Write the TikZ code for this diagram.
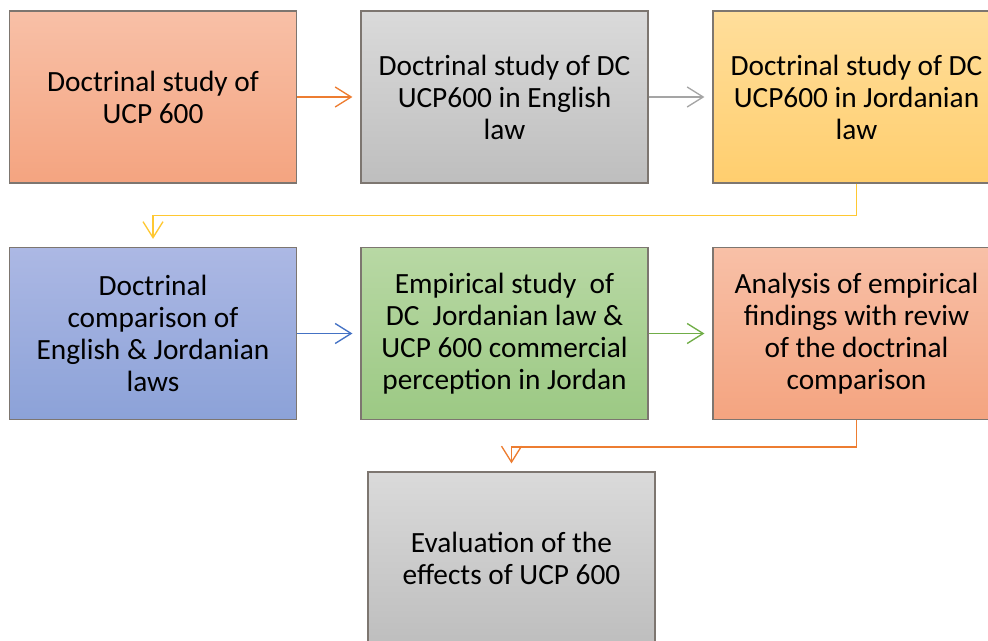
\documentclass[tikz,border=0pt]{standalone}
\usepackage{fontspec}
\setmainfont{Carlito}
\usetikzlibrary{arrows.meta}
\definecolor{bordc}{RGB}{125,118,112}
\definecolor{orT}{RGB}{248,192,167}
\definecolor{orB}{RGB}{244,164,128}
\definecolor{grT}{RGB}{218,218,218}
\definecolor{grB}{RGB}{190,190,190}
\definecolor{yeT}{RGB}{255,222,155}
\definecolor{yeB}{RGB}{255,206,110}
\definecolor{blT}{RGB}{172,184,228}
\definecolor{blB}{RGB}{140,162,216}
\definecolor{gnT}{RGB}{184,216,164}
\definecolor{gnB}{RGB}{156,201,132}
\definecolor{aor}{RGB}{237,125,49}
\definecolor{agr}{RGB}{165,165,165}
\definecolor{aye}{RGB}{255,200,50}
\definecolor{abl}{RGB}{68,114,196}
\definecolor{agn}{RGB}{112,173,71}
\tikzset{
  flowbox/.style={draw=bordc, line width=0.9pt, rectangle, minimum width=215.25pt,
    minimum height=129pt, align=center, inner sep=2pt,
    font=\fontsize{22}{24}\selectfont, text=black},
  conn/.style={line width=1pt, -{Straight Barb[length=12pt,width=15pt,line width=1pt]}, shorten >=6pt},
}
\begin{document}
\begin{tikzpicture}[x=0.75pt,y=-0.75pt]
\useasboundingbox (0,0) rectangle (988,641);
\node[flowbox, top color=orT, bottom color=orB] (b1) at (153,97) {Doctrinal study of\\UCP 600};
\node[flowbox, top color=grT, bottom color=grB] (b2) at (504.5,97) {Doctrinal study of DC\\UCP600 in English\\law};
\node[flowbox, top color=yeT, bottom color=yeB] (b3) at (856.5,97) {Doctrinal study of DC\\UCP600 in Jordanian\\law};
\node[flowbox, top color=blT, bottom color=blB] (b4) at (153,333.5) {Doctrinal\\comparison of\\English \& Jordanian\\laws};
\node[flowbox, top color=gnT, bottom color=gnB] (b5) at (504.5,333.5) {Empirical study~ of\\DC~ Jordanian law \&\\UCP 600 commercial\\perception in Jordan};
\node[flowbox, top color=orT, bottom color=orB] (b6) at (856.5,333.5) {Analysis of empirical\\findings with reviw\\of the doctrinal\\comparison};
\node[flowbox, top color=grT, bottom color=grB] (b7) at (511.5,558) {Evaluation of the\\effects of UCP 600};
\draw[conn, draw=aor] (b1.east) -- (b2.west);
\draw[conn, draw=agr] (b2.east) -- (b3.west);
\draw[conn, draw=aye] (b3.south) -- ++(0,32) -| (b4.north);
\draw[conn, draw=abl] (b4.east) -- (b5.west);
\draw[conn, draw=agn] (b5.east) -- (b6.west);
\draw[conn, draw=aor] (b6.south) -- ++(0,27) -| (b7.north);
\end{tikzpicture}
\end{document}
